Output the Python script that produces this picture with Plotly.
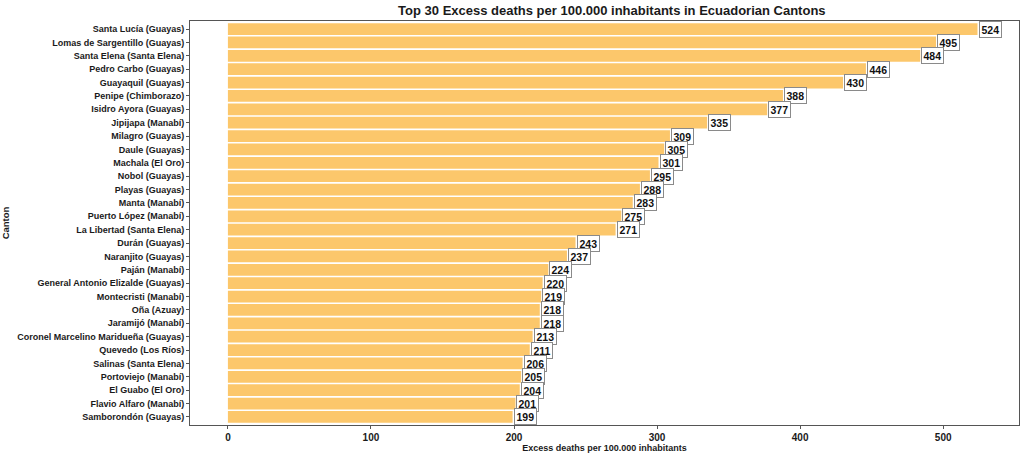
import plotly.graph_objects as go

cantons = [
    "Santa Lucía (Guayas)", "Lomas de Sargentillo (Guayas)", "Santa Elena (Santa Elena)",
    "Pedro Carbo (Guayas)", "Guayaquil (Guayas)", "Penipe (Chimborazo)", "Isidro Ayora (Guayas)",
    "Jipijapa (Manabí)", "Milagro (Guayas)", "Daule (Guayas)", "Machala (El Oro)", "Nobol (Guayas)",
    "Playas (Guayas)", "Manta (Manabí)", "Puerto López (Manabí)", "La Libertad (Santa Elena)",
    "Durán (Guayas)", "Naranjito (Guayas)", "Paján (Manabí)", "General Antonio Elizalde (Guayas)",
    "Montecristi (Manabí)", "Oña (Azuay)", "Jaramijó (Manabí)", "Coronel Marcelino Maridueña (Guayas)",
    "Quevedo (Los Ríos)", "Salinas (Santa Elena)", "Portoviejo (Manabí)", "El Guabo (El Oro)",
    "Flavio Alfaro (Manabí)", "Samborondón (Guayas)",
]
excess = [524, 495, 484, 446, 430, 388, 377, 335, 309, 305, 301, 295, 288, 283, 275, 271,
          243, 237, 224, 220, 219, 218, 218, 213, 211, 206, 205, 204, 201, 199]
x_ticks = [0, 100, 200, 300, 400, 500]

FONT = "Liberation Sans, Arial, sans-serif"
TXT = "#1a1a1a"

fig = go.Figure()
fig.add_trace(go.Bar(
    x=excess, y=cantons, orientation="h",
    marker=dict(color="#FCC76B", line=dict(width=0)),
    width=0.88, hoverinfo="x+y",
))

for c, v in zip(cantons, excess):
    fig.add_annotation(
        x=v, y=c, text=f"<b>{v}</b>", showarrow=False, xanchor="left", yanchor="middle",
        xshift=1,
        font=dict(family=FONT, size=10.5, color="#111111"),
        bgcolor="white", bordercolor="#8a8a8a", borderwidth=1, borderpad=1.5,
    )

fig.update_layout(
    width=1024, height=455,
    margin=dict(l=190, r=5, t=21, b=30, autoexpand=False),
    paper_bgcolor="white", plot_bgcolor="white",
    showlegend=False, bargap=0.12,
    title=dict(text="<b>Top 30 Excess deaths per 100.000 inhabitants in Ecuadorian Cantons</b>",
               x=0.5975, xanchor="center", y=0.978, yanchor="middle",
               font=dict(family=FONT, size=13, color=TXT)),
    font=dict(family=FONT),
)
fig.update_xaxes(
    range=[-26.5, 553], tickvals=x_ticks, ticktext=[f"<b>{t}</b>" for t in x_ticks],
    showgrid=False, zeroline=False,
    showline=True, linecolor="#555555", linewidth=1, mirror=True,
    ticks="outside", ticklen=3, tickcolor="#555555",
    tickfont=dict(family=FONT, size=10, color=TXT),
    title=dict(text="<b>Excess deaths per 100.000 inhabitants</b>", standoff=0,
               font=dict(family=FONT, size=9, color=TXT)),
)
fig.update_yaxes(
    autorange=False, range=[len(cantons) - 0.4, -0.6], categoryorder="array", categoryarray=cantons,
    tickvals=cantons, ticktext=[f"<b>{c}</b>" for c in cantons],
    showgrid=False, zeroline=False,
    showline=True, linecolor="#555555", linewidth=1, mirror=True,
    ticks="outside", ticklen=3, tickcolor="#555555",
    tickfont=dict(family=FONT, size=9, color=TXT),
    title=dict(text="<b>Canton</b>", standoff=8, font=dict(family=FONT, size=9.5, color=TXT)),
)

fig.write_html("out.html")
